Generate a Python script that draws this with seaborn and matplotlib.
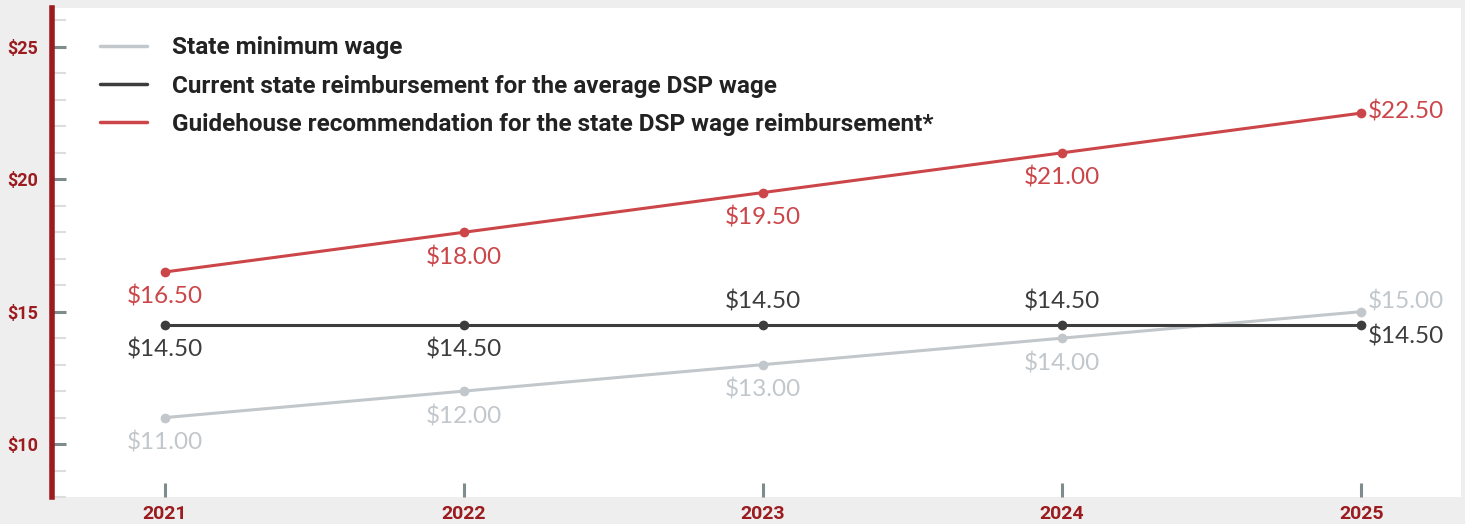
import matplotlib
matplotlib.use("Agg")
import matplotlib.pyplot as plt
import seaborn as sns
import pandas as pd
from matplotlib.ticker import MultipleLocator, FuncFormatter
from matplotlib import font_manager

# data
years = [2021, 2022, 2023, 2024, 2025]
min_wage = [11.00, 12.00, 13.00, 14.00, 15.00]
current_reimb = [14.50, 14.50, 14.50, 14.50, 14.50]
guidehouse_rec = [16.50, 18.00, 19.50, 21.00, 22.50]

series_names = [
    "State minimum wage",
    "Current state reimbursement for the average DSP wage",
    "Guidehouse recommendation for the state DSP wage reimbursement*",
]
# where each data label sits: below / above / right-up / right-down
min_wage_pos = ["below", "below", "below", "below", "rightup"]
current_pos = ["below", "below", "above", "above", "rightdown"]
guide_pos = ["below", "below", "below", "below", "right"]

colors = ["#c2c7cb", "#3d3d3d", "#cc4548"]
dark_red = "#9b1b1f"

df = pd.DataFrame({
    "year": years * 3,
    "wage": min_wage + current_reimb + guidehouse_rec,
    "series": [series_names[0]] * 5 + [series_names[1]] * 5 + [series_names[2]] * 5,
})

sns.set_style("white")
plt.rcParams["font.family"] = ["Lato", "DejaVu Sans"]
bold_font = font_manager.FontProperties(family=["Roboto", "DejaVu Sans"], weight="bold")

fig = plt.figure(figsize=(14.65, 5.24), dpi=100)
fig.patch.set_facecolor("#eeeeee")
ax = fig.add_axes([52 / 1465, 1 - 497 / 524, (1461 - 52) / 1465, (497 - 8) / 524])
ax.set_facecolor("white")

sns.lineplot(data=df, x="year", y="wage", hue="series", palette=colors,
             hue_order=series_names, marker="o", markersize=7, markeredgewidth=0,
             linewidth=2.2, ax=ax)

offsets = {
    "below": ((0, -18), "center", "center"),
    "above": ((0, 16.5), "center", "center"),
    "right": ((5, 1.5), "left", "center"),
    "rightup": ((5, 7.5), "left", "center"),
    "rightdown": ((5, -8), "left", "center"),
}
for vals, pos, col in zip([min_wage, current_reimb, guidehouse_rec],
                          [min_wage_pos, current_pos, guide_pos], colors):
    for x, y, p in zip(years, vals, pos):
        off, ha, va = offsets[p]
        ax.annotate(f"${y:.2f}", (x, y), xytext=off, textcoords="offset points",
                    ha=ha, va=va, fontsize=17.5, color=col)

ax.set_xlim(2020.622, 2025.334)
ax.set_ylim(8.0, 26.47)
ax.set_xticks(years)
ax.yaxis.set_major_locator(MultipleLocator(5))
ax.yaxis.set_minor_locator(MultipleLocator(1))
ax.yaxis.set_major_formatter(FuncFormatter(lambda v, p: f"${v:.0f}"))
ax.set_xlabel("")
ax.set_ylabel("")

ax.tick_params(axis="y", which="major", direction="in", length=10, width=2.2,
               color="#7f8c8d", labelcolor=dark_red, pad=10, left=True)
ax.tick_params(axis="y", which="minor", direction="in", length=10, width=1.5,
               color="#dddddd", left=True)
ax.tick_params(axis="x", which="major", direction="in", length=10, width=2.2,
               color="#7f8c8d", labelcolor=dark_red, pad=6, bottom=True)
for lbl in ax.get_yticklabels():
    lbl.set_fontproperties(bold_font)
    lbl.set_fontsize(13)
for lbl in ax.get_xticklabels():
    lbl.set_fontproperties(bold_font)
    lbl.set_fontsize(14)

for s in ["top", "right", "bottom"]:
    ax.spines[s].set_visible(False)
ax.spines["left"].set_color(dark_red)
ax.spines["left"].set_linewidth(4)

leg_prop = font_manager.FontProperties(family=["Roboto", "DejaVu Sans"], weight="bold", size=17.5)
leg = ax.legend(loc="upper left", bbox_to_anchor=(0.027, 0.962), frameon=False,
                prop=leg_prop, handlelength=1.95, handletextpad=1.03, labelspacing=0.63,
                borderaxespad=0, title=None)
for t in leg.get_texts():
    t.set_color("#222222")
for h in leg.get_lines():
    h.set_marker("")
    h.set_linewidth(2.5)

fig.savefig("out.png", dpi=100, facecolor=fig.get_facecolor())
